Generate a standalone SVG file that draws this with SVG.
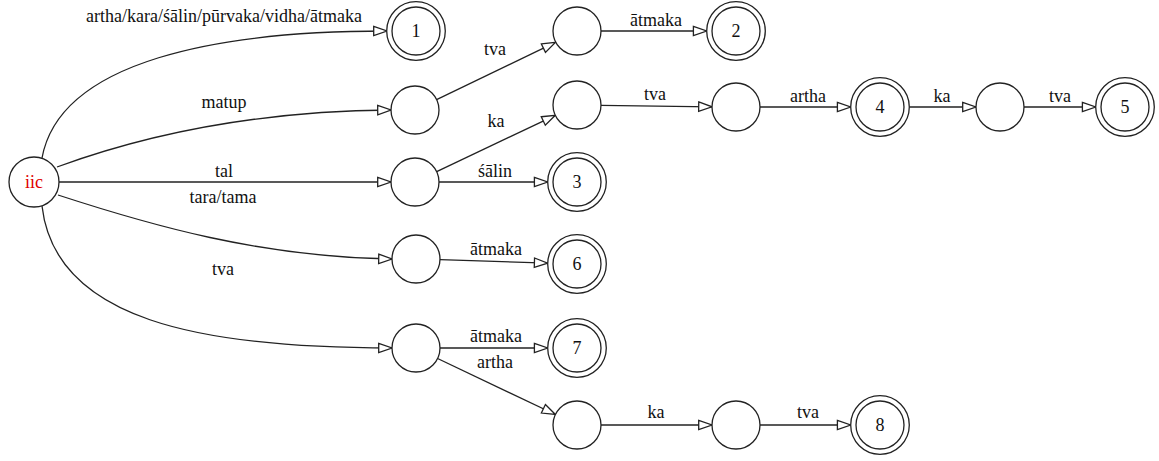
<svg xmlns="http://www.w3.org/2000/svg" width="1159" height="461" viewBox="0 0 1159 461">
<style>
  .n { fill: #fff; stroke: #222; stroke-width: 1.3; }
  .e { fill: none; stroke: #222; stroke-width: 1.3; marker-end: url(#arr); }
  text { font-family: "Liberation Serif", "Times New Roman", serif; font-size: 18px; fill: #111; text-anchor: middle; }
  .red { fill: #e00000; }
</style>
<defs>
  <marker id="arr" markerUnits="userSpaceOnUse" markerWidth="16" markerHeight="12" refX="13.3" refY="6" orient="auto" overflow="visible">
    <path d="M0,1.3 L13.3,6 L0,10.7 Z" fill="#fff" stroke="#222" stroke-width="1.3"/>
  </marker>
</defs>
<rect width="1159" height="461" fill="#fff"/>
<g id="connectors">
  <path class="e" d="M42,158 C60,60 220,31 387,31"/>
  <path class="e" d="M57,167 C150,133 260,111 391,110"/>
  <path class="e" d="M59,182 L391,182"/>
  <path class="e" d="M58,195 C150,225 260,257 392,259"/>
  <path class="e" d="M42,206 C55,320 200,348 392,348"/>
  <path class="e" d="M436.6,99.6 L555.4,42.4"/>
  <path class="e" d="M601,31 L706.7,31"/>
  <path class="e" d="M436.7,171.7 L555.3,115.3"/>
  <path class="e" d="M439,182 L547.7,182"/>
  <path class="e" d="M601,105.3 L712,106.8"/>
  <path class="e" d="M760,107 L850.7,107"/>
  <path class="e" d="M909.3,107 L976,107"/>
  <path class="e" d="M1024,107 L1095.7,107"/>
  <path class="e" d="M440,259.7 L547.7,263.1"/>
  <path class="e" d="M440,348 L547.7,348"/>
  <path class="e" d="M437.6,358.5 L555.4,414.5"/>
  <path class="e" d="M601,425 L712,425"/>
  <path class="e" d="M760,425 L850.7,425"/>
  <text x="224" y="22">artha/kara/śālin/pūrvaka/vidha/ātmaka</text>
  <text x="224" y="108">matup</text>
  <text x="224" y="177">tal</text>
  <text x="223" y="203">tara/tama</text>
  <text x="223" y="275">tva</text>
  <text x="495" y="55">tva</text>
  <text x="656" y="26">ātmaka</text>
  <text x="496" y="127">ka</text>
  <text x="495" y="177">śālin</text>
  <text x="655" y="100">tva</text>
  <text x="808" y="102">artha</text>
  <text x="942" y="102">ka</text>
  <text x="1060" y="102">tva</text>
  <text x="496" y="255">ātmaka</text>
  <text x="496" y="342">ātmaka</text>
  <text x="495" y="368">artha</text>
  <text x="656" y="418">ka</text>
  <text x="808" y="418">tva</text>
</g>
<g id="iic"><circle class="n" cx="34" cy="182" r="25"/><text class="red" x="34" y="188">iic</text></g>
<g id="f1"><circle class="n" cx="416" cy="31" r="29.3"/><circle class="n" cx="416" cy="31" r="24"/><text x="416" y="37">1</text></g>
<g id="q1"><circle class="n" cx="415" cy="110" r="24"/></g>
<g id="q2"><circle class="n" cx="415" cy="182" r="24"/></g>
<g id="q3"><circle class="n" cx="416" cy="259" r="24"/></g>
<g id="q4"><circle class="n" cx="416" cy="348" r="24"/></g>
<g id="q5"><circle class="n" cx="577" cy="31" r="24"/></g>
<g id="f2"><circle class="n" cx="736" cy="31" r="29.3"/><circle class="n" cx="736" cy="31" r="24"/><text x="736" y="37">2</text></g>
<g id="q6"><circle class="n" cx="577" cy="105" r="24"/></g>
<g id="q7"><circle class="n" cx="736" cy="107" r="24"/></g>
<g id="f3"><circle class="n" cx="577" cy="182" r="29.3"/><circle class="n" cx="577" cy="182" r="24"/><text x="577" y="188">3</text></g>
<g id="f4"><circle class="n" cx="880" cy="107" r="29.3"/><circle class="n" cx="880" cy="107" r="24"/><text x="880" y="113">4</text></g>
<g id="q8"><circle class="n" cx="1000" cy="107" r="24"/></g>
<g id="f5"><circle class="n" cx="1125" cy="107" r="29.3"/><circle class="n" cx="1125" cy="107" r="24"/><text x="1125" y="113">5</text></g>
<g id="f6"><circle class="n" cx="577" cy="264" r="29.3"/><circle class="n" cx="577" cy="264" r="24"/><text x="577" y="270">6</text></g>
<g id="f7"><circle class="n" cx="577" cy="348" r="29.3"/><circle class="n" cx="577" cy="348" r="24"/><text x="577" y="354">7</text></g>
<g id="q9"><circle class="n" cx="577" cy="425" r="24"/></g>
<g id="q10"><circle class="n" cx="736" cy="425" r="24"/></g>
<g id="f8"><circle class="n" cx="880" cy="425" r="29.3"/><circle class="n" cx="880" cy="425" r="24"/><text x="880" y="431">8</text></g>
</svg>
